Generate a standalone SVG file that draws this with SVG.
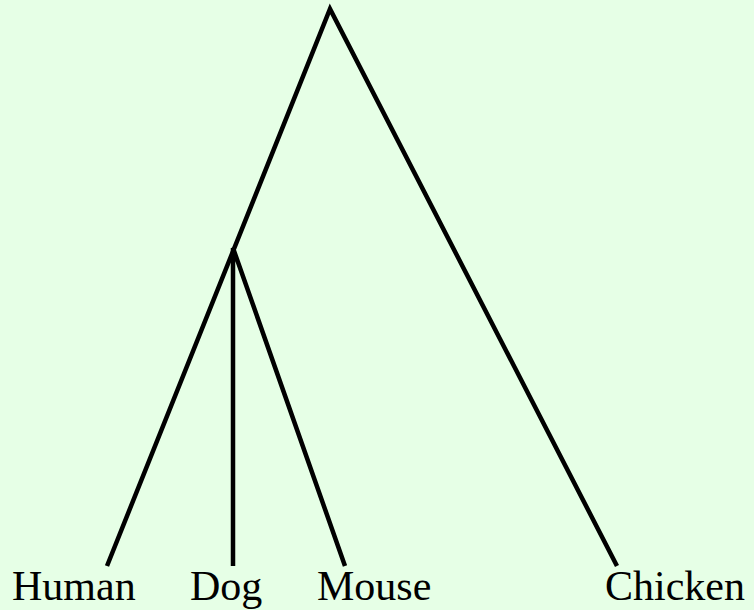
<svg xmlns="http://www.w3.org/2000/svg" width="754" height="610" viewBox="0 0 754 610">
<style>
.edge{fill:none;stroke:#000;stroke-width:4.5;stroke-linejoin:miter;stroke-linecap:butt}
.lbl{font-family:"Liberation Serif","Times New Roman",serif;font-size:42px;fill:#000}
</style>
<rect width="754" height="610" fill="#e6ffe6"/>
<g id="connectors">
<polyline class="edge" points="107,566 330,9 617,566"/>
<polyline class="edge" points="233,566 233,248 345,566"/>
</g>
<g id="node-human"><text class="lbl" x="12" y="600">Human</text></g>
<g id="node-dog"><text class="lbl" x="190" y="600">Dog</text></g>
<g id="node-mouse"><text class="lbl" x="317" y="600">Mouse</text></g>
<g id="node-chicken"><text class="lbl" x="605" y="600">Chicken</text></g>
</svg>
